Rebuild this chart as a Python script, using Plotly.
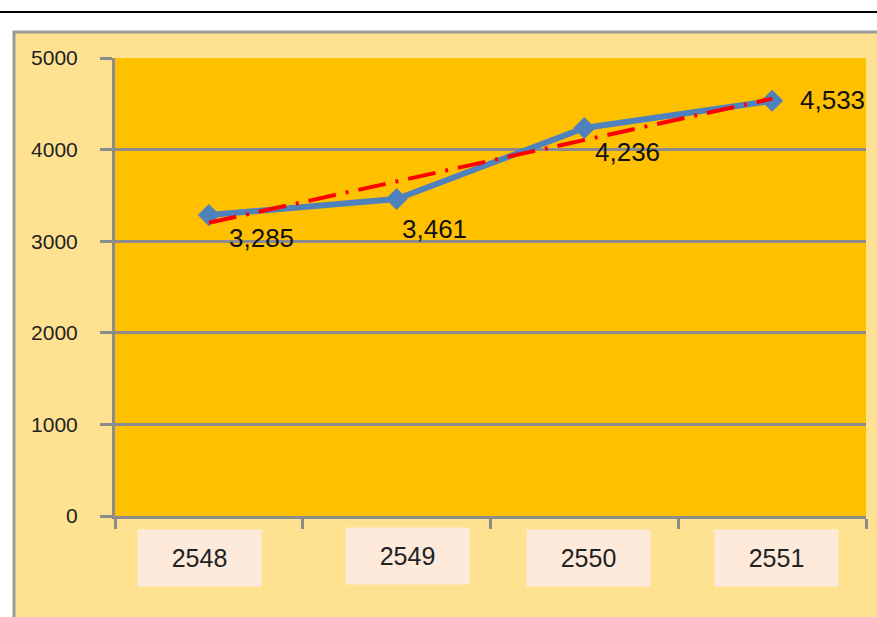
import numpy as np
import plotly.graph_objects as go

years = ["2548", "2549", "2550", "2551"]
values = [3285, 3461, 4236, 4533]
value_labels = ["3,285", "3,461", "4,236", "4,533"]
y_ticks = [0, 1000, 2000, 3000, 4000, 5000]

# label offsets (pixels) – style only
lab_dx = [53, 38, 43, 60]
lab_dy = [-23, -30, -24, 1]
box_dx = [-9, 11, 4, 4]
box_dy = [-1, 1, -1, -1]

# linear trend line from data
xi = np.arange(1, len(values) + 1)
slope, intercept = np.polyfit(xi, values, 1)
trend = slope * xi + intercept

W, H = 877, 617
L, R, T, B = 115, 11, 58, 101
pw, ph = W - L - R, H - T - B


def px(x):
    return (x - L) / pw


def py(y):
    return (H - B - y) / ph


GRAY = "#8C8C8C"
FONT = "Liberation Sans, Arial, sans-serif"

fig = go.Figure()
fig.add_trace(go.Scatter(
    x=years, y=values, mode="lines+markers",
    line=dict(color="#4F81BD", width=6),
    marker=dict(symbol="diamond", size=17, color="#4F81BD"),
    hoverinfo="skip", showlegend=False,
))
fig.add_trace(go.Scatter(
    x=years, y=list(trend), mode="lines",
    line=dict(color="#FF0000", width=4, dash="28px,10px,3px,10px"),
    hoverinfo="skip", showlegend=False,
))

shapes = [
    dict(type="rect", xref="paper", yref="paper", layer="below",
         x0=px(14), x1=px(W + 10), y0=py(H + 10), y1=py(32),
         fillcolor="#FFE291", line=dict(color="#9A9A9A", width=3)),
    dict(type="rect", xref="paper", yref="paper", layer="below",
         x0=0, x1=1, y0=0, y1=1, fillcolor="#FFC000", line=dict(width=0)),
    dict(type="line", xref="paper", yref="paper",
         x0=px(0), x1=px(W), y0=py(12), y1=py(12),
         line=dict(color="#000000", width=2)),
]

annotations = []
for i, (yr, v, t) in enumerate(zip(years, values, value_labels)):
    annotations.append(dict(
        x=i, y=v, xref="x", yref="y", text=t, showarrow=False,
        xanchor="center", yanchor="middle",
        xshift=lab_dx[i], yshift=lab_dy[i],
        font=dict(family=FONT, size=26, color="#111111"),
    ))
    annotations.append(dict(
        x=i, y=py(557), xref="x", yref="paper", text=yr, showarrow=False,
        xanchor="center", yanchor="middle",
        xshift=box_dx[i], yshift=box_dy[i],
        width=121, height=54, bgcolor="#FDEADA",
        font=dict(family=FONT, size=25, color="#222222"),
    ))

fig.update_layout(
    width=W, height=H,
    margin=dict(l=L, r=R, t=T, b=B),
    paper_bgcolor="#FFFFFF",
    plot_bgcolor="rgba(0,0,0,0)",
    shapes=shapes,
    annotations=annotations,
    xaxis=dict(
        type="category", range=[-0.5, 3.5], tickson="boundaries",
        ticks="outside", ticklen=10, tickwidth=3, tickcolor=GRAY,
        showticklabels=False, showgrid=False, zeroline=False,
        showline=True, linecolor=GRAY, linewidth=3,
    ),
    yaxis=dict(
        range=[0, 5000], tickvals=y_ticks, ticktext=[str(v) for v in y_ticks],
        ticks="outside", ticklen=12, tickwidth=3, tickcolor=GRAY,
        ticklabelstandoff=18,
        showgrid=True, gridcolor=GRAY, gridwidth=3, zeroline=False,
        showline=True, linecolor=GRAY, linewidth=3,
        tickfont=dict(family=FONT, size=21, color="#222222"),
    ),
)

fig.write_html("out.html", config={"displayModeBar": False},
               post_script="document.body.style.margin='0px';")
